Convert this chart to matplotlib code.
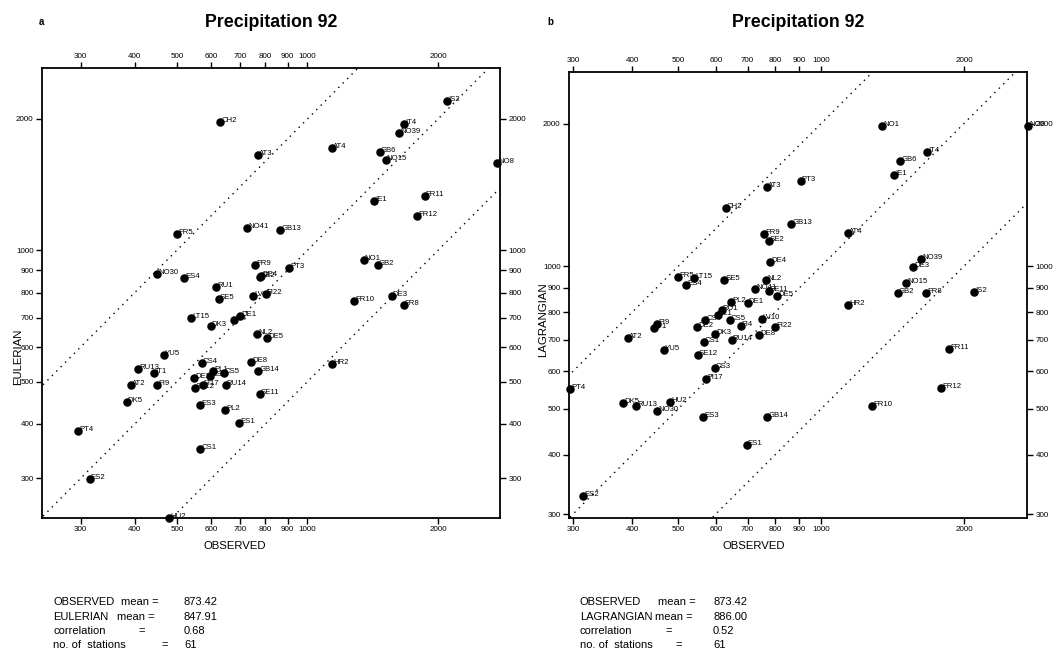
import numpy as np
import matplotlib
matplotlib.use("Agg")
import matplotlib.pyplot as plt
from matplotlib.ticker import FixedLocator, FixedFormatter, NullLocator

plt.rcParams['font.family'] = ['Liberation Sans', 'DejaVu Sans']

# station data (mm)
stations = ["CH2", "AT3", "FR5", "NO41", "NO30", "ES4", "FR9", "SE2", "DE4", "RU1",
            "SE5", "LV10", "FI22", "LT15", "DK3", "FI4", "DE1", "NL2", "DE5", "YU5",
            "CS4", "DE8", "RU13", "IT1", "PL1", "CS5", "GB14", "DE2", "CS3", "FI17",
            "SE12", "AT2", "FI9", "RU14", "SE11", "DK5", "ES3", "PL2", "PT4", "ES1",
            "CS1", "ES2", "HU2", "IS2", "IT4", "NO39", "AT4", "GB6", "NO15", "NO8",
            "IE1", "FR11", "FR12", "GB13", "NO1", "GB2", "PT3", "DE3", "FR10", "FR8",
            "HR2"]
observed = [629, 769, 500, 726, 451, 519, 758, 776, 782, 617,
            625, 749, 801, 540, 598, 677, 700, 767, 808, 467,
            570, 741, 407, 444, 605, 642, 770, 549, 597, 573,
            550, 392, 451, 648, 776, 383, 565, 646, 296, 697,
            566, 315, 480, 2100, 1672, 1625, 1140, 1467, 1513, 2730,
            1425, 1862, 1792, 866, 1347, 1450, 906, 1562, 1282, 1666,
            1141]
eulerian = [1971, 1651, 1091, 1126, 880, 864, 927, 868, 874, 822,
            774, 786, 793, 701, 672, 691, 708, 643, 630, 574,
            553, 555, 534, 524, 529, 524, 530, 509, 516, 492,
            484, 490, 490, 491, 469, 448, 443, 431, 386, 402,
            350, 299, 244, 2202, 1945, 1854, 1713, 1680, 1611, 1586,
            1300, 1331, 1195, 1112, 950, 925, 913, 787, 765, 749,
            550]
lagrangian = [1330, 1469, 949, 895, 494, 914, 1169, 1128, 1019, 810,
              937, 774, 745, 944, 721, 747, 837, 933, 867, 665,
              769, 716, 507, 739, 790, 769, 480, 743, 610, 579,
              649, 706, 755, 699, 885, 514, 480, 839, 551, 419,
              691, 327, 518, 881, 1743, 1037, 1175, 1666, 920, 1974,
              1556, 669, 553, 1229, 1974, 877, 1512, 996, 506, 878,
              830]

ticks = [300, 400, 500, 600, 700, 800, 900, 1000, 2000]
tick_labels = ["300", "400", "500", "600", "700", "800", "900", "1000", "2000"]

stats_a = [("OBSERVED", "mean =", "873.42"), ("EULERIAN", "mean =", "847.91"),
           ("correlation", "=", "0.68"), ("no. of  stations", "=", "61")]
stats_b = [("OBSERVED", "mean =", "873.42"), ("LAGRANGIAN", "mean =", "886.00"),
           ("correlation", "=", "0.52"), ("no. of  stations", "=", "61")]

W, H = 1053, 653
fig = plt.figure(figsize=(W/100, H/100), dpi=100)


def ftxt(x, y, s, **kw):
    fig.text(x/W, 1 - y/H, s, **kw)


def panel(rect, model, xlim, ylim):
    ax = fig.add_axes(rect)
    ax.set_xscale('log')
    ax.set_yscale('log')
    ax.set_xlim(xlim)
    ax.set_ylim(ylim)
    for axis in (ax.xaxis, ax.yaxis):
        axis.set_major_locator(FixedLocator(ticks))
        axis.set_major_formatter(FixedFormatter(tick_labels))
        axis.set_minor_locator(NullLocator())
    ax.tick_params(direction='out', length=4, width=1, labelsize=5.8, pad=2,
                   top=True, labeltop=True, right=True, labelright=True)
    for sp in ax.spines.values():
        sp.set_linewidth(1.3)
    # 1:1 and factor-of-two lines
    xx = np.array([100, 10000])
    for f in (0.5, 1, 2):
        ax.plot(xx, xx*f, color='black', lw=1.0, ls=(0, (1, 3.5)))
    ax.scatter(observed, model, s=26, color='black', zorder=3, clip_on=False)
    for name, x, y in zip(stations, observed, model):
        ax.annotate(name, (x, y), xytext=(0.8, 0), textcoords='offset points',
                    fontsize=5.6, ha='left', va='baseline', annotation_clip=False)
    return ax


panel([42/W, 1 - 518/H, 458/W, 450/H], eulerian, (244.5, 2777), (243.5, 2616))
panel([569/W, 1 - 518/H, 458/W, 446/H], lagrangian, (294.3, 2716), (294.3, 2569))

ftxt(39, 25, 'a', fontsize=7, fontweight='bold')
ftxt(547, 25, 'b', fontsize=7, fontweight='bold')
ftxt(271, 27, 'Precipitation 92', ha='center', va='baseline', fontsize=12.8, fontweight='bold')
ftxt(798, 27, 'Precipitation 92', ha='center', va='baseline', fontsize=12.8, fontweight='bold')

ftxt(235, 546, 'OBSERVED', ha='center', va='center', fontsize=8.2)
ftxt(754, 546, 'OBSERVED', ha='center', va='center', fontsize=8.2)
ftxt(18, 357, 'EULERIAN', ha='center', va='center', rotation=90, fontsize=8.2)
ftxt(543, 320, 'LAGRANGIAN', ha='center', va='center', rotation=90, fontsize=8.2)

rows_y = [602, 617, 631, 645]
eq_x_a = [121, 117, 138, 161]
eq_x_b = [658, 655, 665, 675]
for (c1, c2, c3), y, xe in zip(stats_a, rows_y, eq_x_a):
    ftxt(53, y, c1, va='center', fontsize=8)
    ftxt(xe, y, c2, va='center', fontsize=8)
    ftxt(184, y, c3, va='center', fontsize=8)
for (c1, c2, c3), y, xe in zip(stats_b, rows_y, eq_x_b):
    ftxt(580, y, c1, va='center', fontsize=8)
    ftxt(xe, y, c2, va='center', fontsize=8)
    ftxt(713, y, c3, va='center', fontsize=8)

fig.savefig("out.png", dpi=100)
